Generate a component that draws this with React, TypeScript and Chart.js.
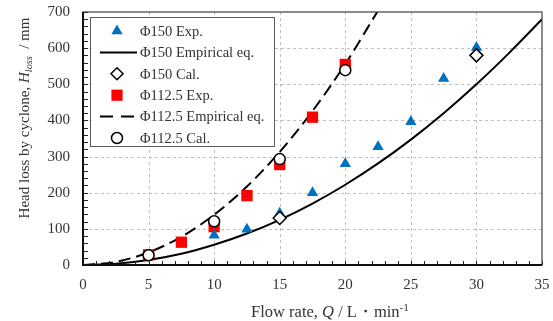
import React, { useEffect, useRef } from 'react';
import { Chart, registerables } from 'chart.js';

Chart.register(...registerables);

// ---- data ----
const qExp150 = [10, 12.5, 15, 17.5, 20, 22.5, 25, 27.5, 30];
const hExp150 = [82, 99, 143, 200, 280, 327, 396, 516, 602];

const qCal150 = [15, 30];
const hCal150 = [130, 580];

const qEmp150 = [0, 2.5, 5, 7.5, 10, 12.5, 15, 17.5, 20, 22.5, 25, 27.5, 30, 32.5, 35];
const hEmp150 = [0, 3.5, 14, 31, 56, 87, 125, 170, 222, 281, 347, 420, 500, 587, 680];

const qExp112 = [5, 7.5, 10, 12.5, 15, 17.5, 20];
const hExp112 = [28, 63, 106, 192, 278, 409, 555];

const qCal112 = [5, 10, 15, 20];
const hCal112 = [27, 121, 293, 539];

const qEmp112 = [0, 2.5, 5, 7.5, 10, 12.5, 15, 17.5, 20, 22.5];
const hEmp112 = [0, 8.7, 35, 78, 139, 217, 313, 426, 556, 704];

const legendLabels = [
  'Φ150 Exp.',
  'Φ150 Empirical eq.',
  'Φ150 Cal.',
  'Φ112.5 Exp.',
  'Φ112.5 Empirical eq.',
  'Φ112.5 Cal.',
];

const xGridValues = [5, 10, 15, 20, 25, 30];
const yGridValues = [100, 200, 300, 400, 500, 600];

const FONT = '"Liberation Serif", "DejaVu Serif", serif';
const BLUE = '#0070C0';
const RED = '#FF0000';
const TEXT = '#333333';

type Seg = { t: string; italic?: boolean; sub?: boolean; sup?: boolean };

function segFont(s: Seg, size: number) {
  const sz = s.sub || s.sup ? size * 0.68 : size;
  return `${s.italic ? 'italic ' : ''}${sz}px ${FONT}`;
}

function drawRich(ctx: CanvasRenderingContext2D, segs: Seg[], cx: number, cy: number, size: number) {
  let total = 0;
  const widths = segs.map((s) => {
    ctx.font = segFont(s, size);
    const w = ctx.measureText(s.t).width;
    total += w;
    return w;
  });
  let x = cx - total / 2;
  ctx.textBaseline = 'alphabetic';
  ctx.textAlign = 'left';
  const base = cy + size * 0.33;
  segs.forEach((s, i) => {
    ctx.font = segFont(s, size);
    let y = base;
    if (s.sub) y = base + size * 0.2;
    if (s.sup) y = base - size * 0.38;
    ctx.fillText(s.t, x, y);
    x += widths[i];
  });
}

function marker(ctx: CanvasRenderingContext2D, kind: string, x: number, y: number) {
  ctx.save();
  ctx.setLineDash([]);
  ctx.beginPath();
  if (kind === 'triangle') {
    const r = 6.5;
    ctx.moveTo(x, y - r);
    ctx.lineTo(x + r * 0.866, y + r * 0.5);
    ctx.lineTo(x - r * 0.866, y + r * 0.5);
    ctx.closePath();
    ctx.fillStyle = BLUE;
    ctx.fill();
  } else if (kind === 'rect') {
    const s = 5.6;
    ctx.rect(x - s, y - s, 2 * s, 2 * s);
    ctx.fillStyle = RED;
    ctx.fill();
  } else if (kind === 'diamond') {
    const r = 6;
    ctx.moveTo(x, y - r);
    ctx.lineTo(x + r, y);
    ctx.lineTo(x, y + r);
    ctx.lineTo(x - r, y);
    ctx.closePath();
    ctx.fillStyle = '#fff';
    ctx.fill();
    ctx.lineWidth = 1.5;
    ctx.strokeStyle = '#000';
    ctx.stroke();
  } else if (kind === 'circle') {
    ctx.arc(x, y, 5.5, 0, Math.PI * 2);
    ctx.fillStyle = '#fff';
    ctx.fill();
    ctx.lineWidth = 1.5;
    ctx.strokeStyle = '#000';
    ctx.stroke();
  }
  ctx.restore();
}

const decorPlugin = {
  id: 'decor',
  beforeDatasetsDraw(chart: any) {
    const { ctx, chartArea, scales } = chart;
    const { left, right, top, bottom } = chartArea;
    const xs = scales.x;
    const ys = scales.y;
    ctx.save();
    ctx.strokeStyle = '#c0c0c0';
    ctx.lineWidth = 1;
    ctx.setLineDash([3, 3]);
    xGridValues.forEach((v) => {
      const px = Math.round(xs.getPixelForValue(v)) + 0.5;
      ctx.beginPath();
      ctx.moveTo(px, top);
      ctx.lineTo(px, bottom);
      ctx.stroke();
    });
    yGridValues.forEach((v) => {
      const py = Math.round(ys.getPixelForValue(v)) + 0.5;
      ctx.beginPath();
      ctx.moveTo(left, py);
      ctx.lineTo(right, py);
      ctx.stroke();
    });
    ctx.restore();
  },
  afterDatasetsDraw(chart: any) {
    const { ctx, chartArea, scales } = chart;
    const { left, right, top, bottom } = chartArea;
    const xs = scales.x;
    const ys = scales.y;
    ctx.save();
    ctx.setLineDash([]);
    // minor ticks (inward)
    ctx.strokeStyle = '#222';
    ctx.lineWidth = 1;
    for (let v = xs.min; v <= xs.max; v += 1) {
      const px = Math.round(xs.getPixelForValue(v)) + 0.5;
      ctx.beginPath();
      ctx.moveTo(px, bottom);
      ctx.lineTo(px, bottom - 4);
      ctx.stroke();
    }
    for (let v = ys.min; v <= ys.max; v += 20) {
      const py = Math.round(ys.getPixelForValue(v)) + 0.5;
      ctx.beginPath();
      ctx.moveTo(left, py);
      ctx.lineTo(left + 5, py);
      ctx.stroke();
    }
    // frame
    ctx.strokeStyle = '#404040';
    ctx.lineWidth = 1.2;
    ctx.strokeRect(left, top, right - left, bottom - top);
    ctx.lineWidth = 2;
    ctx.strokeStyle = '#111';
    ctx.beginPath();
    ctx.moveTo(left, top);
    ctx.lineTo(left, bottom);
    ctx.lineTo(right, bottom);
    ctx.stroke();

    // legend
    const bx = left + 7;
    const by = top + 5;
    const bw = 184;
    const bh = 129;
    ctx.fillStyle = '#fff';
    ctx.fillRect(bx, by, bw, bh);
    ctx.strokeStyle = '#595959';
    ctx.lineWidth = 1;
    ctx.strokeRect(bx + 0.5, by + 0.5, bw, bh);
    const kinds = ['triangle', 'line', 'diamond', 'rect', 'dash', 'circle'];
    kinds.forEach((k, i) => {
      const cy = by + 14 + i * 21.4;
      const mx = bx + 27;
      if (k === 'line' || k === 'dash') {
        ctx.save();
        ctx.strokeStyle = '#000';
        ctx.lineWidth = 2;
        ctx.setLineDash(k === 'dash' ? [13, 8] : []);
        ctx.beginPath();
        ctx.moveTo(bx + 10, cy);
        ctx.lineTo(bx + 47, cy);
        ctx.stroke();
        ctx.restore();
      } else {
        marker(ctx, k, mx, cy);
      }
      ctx.fillStyle = TEXT;
      ctx.font = `14.5px ${FONT}`;
      ctx.textAlign = 'left';
      ctx.textBaseline = 'middle';
      ctx.fillText(legendLabels[i], bx + 50, cy + 1);
    });

    // axis titles
    ctx.fillStyle = TEXT;
    drawRich(
      ctx,
      [{ t: 'Flow rate, ' }, { t: 'Q', italic: true }, { t: ' / L' }, { t: '・' }, { t: 'min' }, { t: '-1', sup: true }],
      330,
      312,
      16.5
    );
    ctx.save();
    ctx.translate(24, 118);
    ctx.rotate(-Math.PI / 2);
    drawRich(
      ctx,
      [
        { t: 'Head loss by cyclone, ' },
        { t: 'H', italic: true },
        { t: 'loss', italic: true, sub: true },
        { t: '  / mm' },
      ],
      0,
      0,
      15
    );
    ctx.restore();
    ctx.restore();
  },
};

export default function App() {
  const ref = useRef<HTMLCanvasElement>(null);
  useEffect(() => {
    document.body.style.margin = '0';
    const xy = (xs: number[], ys: number[]) => xs.map((x, i) => ({ x, y: ys[i] }));
    const chart = new Chart(ref.current as HTMLCanvasElement, {
      type: 'scatter',
      data: {
        datasets: [
          {
            label: legendLabels[0],
            data: xy(qExp150, hExp150),
            pointStyle: 'triangle',
            pointRadius: 6.5,
            pointBackgroundColor: BLUE,
            pointBorderColor: BLUE,
            pointBorderWidth: 0,
            showLine: false,
            order: 3,
          },
          {
            label: legendLabels[1],
            data: xy(qEmp150, hEmp150),
            showLine: true,
            pointRadius: 0,
            borderColor: '#000',
            borderWidth: 2,
            cubicInterpolationMode: 'monotone',
            order: 10,
          },
          {
            label: legendLabels[2],
            data: xy(qCal150, hCal150),
            pointStyle: 'rectRot',
            pointRadius: 6.5,
            pointBackgroundColor: '#fff',
            pointBorderColor: '#000',
            pointBorderWidth: 1.5,
            showLine: false,
            order: 1,
          },
          {
            label: legendLabels[3],
            data: xy(qExp112, hExp112),
            pointStyle: 'rect',
            pointRadius: 8,
            pointBackgroundColor: RED,
            pointBorderColor: RED,
            pointBorderWidth: 0,
            showLine: false,
            order: 4,
          },
          {
            label: legendLabels[4],
            data: xy(qEmp112, hEmp112),
            showLine: true,
            pointRadius: 0,
            borderColor: '#000',
            borderWidth: 2,
            borderDash: [12, 6],
            cubicInterpolationMode: 'monotone',
            order: 9,
          },
          {
            label: legendLabels[5],
            data: xy(qCal112, hCal112),
            pointStyle: 'circle',
            pointRadius: 5.5,
            pointBackgroundColor: '#fff',
            pointBorderColor: '#000',
            pointBorderWidth: 1.5,
            showLine: false,
            order: 2,
          },
        ],
      },
      options: {
        animation: false,
        responsive: false,
        layout: { padding: { top: 12, right: 11, left: 0, bottom: 0 } },
        plugins: { legend: { display: false }, tooltip: { enabled: false } },
        scales: {
          x: {
            type: 'linear',
            min: 0,
            max: 35,
            ticks: { stepSize: 5, color: TEXT, font: { family: FONT, size: 15 }, padding: 11 },
            grid: { display: false, drawTicks: false },
            border: { display: false },
            afterFit: (s: any) => {
              s.height = 56;
              s.paddingLeft = 0;
              s.paddingRight = 0;
            },
          },
          y: {
            type: 'linear',
            min: 0,
            max: 700,
            ticks: { stepSize: 100, color: TEXT, font: { family: FONT, size: 15 }, padding: 13 },
            grid: { display: false, drawTicks: false },
            border: { display: false },
            afterFit: (s: any) => {
              s.width = 83;
              s.paddingTop = 0;
              s.paddingBottom = 0;
            },
          },
        },
      },
      plugins: [decorPlugin],
    } as any);
    return () => chart.destroy();
  }, []);
  return <canvas ref={ref} width={553} height={321} style={{ display: 'block' }} />;
}
